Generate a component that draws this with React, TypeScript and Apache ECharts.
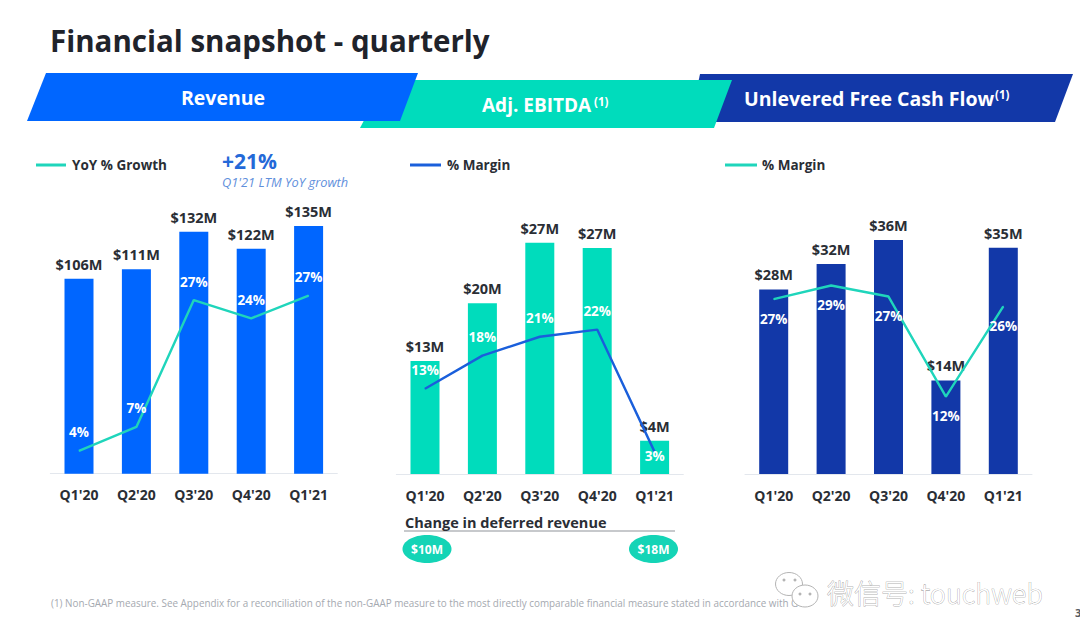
import React, { useEffect, useRef } from "react";
import * as echarts from "echarts";

const quarters = ["Q1'20", "Q2'20", "Q3'20", "Q4'20", "Q1'21"];
const revenue = [106, 111.2, 131.7, 122.4, 134.8];
const revenueGrowth = [3.5, 7.2, 26.7, 23.9, 27.4];
const ebitda = [13.3, 20.1, 27.2, 26.6, 3.9];
const ebitdaMargin = [13.1, 18.2, 21.1, 22.2, 3.4];
const fcf = [28.4, 32.3, 36.0, 14.4, 34.8];
const fcfMargin = [26.9, 29.0, 27.3, 11.9, 25.8];

const BLUE = "#0066ff";
const TEAL = "#00dcbc";
const NAVY = "#1238a8";
const LINE_TEAL = "#1fd5bb";
const LINE_BLUE = "#1a5fdb";
const INK = "#2a2e35";
const FONT = '"Open Sans"';

const FOOTNOTE =
  "(1) Non-GAAP measure. See Appendix for a reconciliation of the non-GAAP measure to the most directly comparable financial measure stated in accordance with G";

const panels = [
  { name: "Revenue", lineName: "YoY % Growth", bars: revenue, line: revenueGrowth, barColor: BLUE, lineColor: LINE_TEAL, left: 50.3, top: 198, height: 275.7, barMax: 150, lineMax: 42.4, below: false },
  { name: "Adj. EBITDA", lineName: "% Margin", bars: ebitda, line: ebitdaMargin, barColor: TEAL, lineColor: LINE_BLUE, left: 396.3, top: 219, height: 255, barMax: 30, lineMax: 39.2, below: false },
  { name: "Unlevered Free Cash Flow", lineName: "% Margin", bars: fcf, line: fcfMargin, barColor: NAVY, lineColor: LINE_TEAL, left: 745, top: 214, height: 260, barMax: 40, lineMax: 40, below: true },
];

const txt = (x: number, y: number, text: string, fontSize: number, fill: string, extra: any = {}) => ({
  type: "text",
  x,
  y,
  z: extra.z ?? 10,
  style: { text, fontSize, fill, fontFamily: FONT, fontWeight: 700, verticalAlign: "middle", align: "left", ...extra.style },
});

const legendLine = (x1: number, x2: number, y: number, color: string) => ({
  type: "line",
  shape: { x1, y1: y, x2, y2: y },
  style: { stroke: color, lineWidth: 3 },
});

const band = (points: number[][], fill: string, z: number) => ({
  type: "polygon",
  z,
  shape: { points },
  style: { fill },
});

const bubble = (cx: number, cy: number, rx: number, ry: number, z: number) => ({
  type: "ellipse",
  z,
  shape: { cx, cy, rx, ry },
  style: { fill: "#ffffff", stroke: "#b4b4b4", lineWidth: 1 },
});

const dot = (cx: number, cy: number) => ({
  type: "circle",
  z: 22,
  shape: { cx, cy, r: 1.5 },
  style: { fill: "#b4b4b4" },
});

const graphics: any[] = [
  txt(50, 40, "Financial snapshot - quarterly", 29.5, "#1f232b"),
  band([[700, 74], [1073, 74], [1055, 122], [690, 122]], NAVY, 1),
  band([[385, 80], [732, 80], [714, 128], [360, 128]], TEAL, 2),
  band([[46, 73], [418, 73], [400, 121], [27, 121]], BLUE, 3),
  txt(223, 97, "Revenue", 19.5, "#ffffff", { style: { align: "center" } }),
  txt(482, 105, "Adj. EBITDA", 19, "#ffffff"),
  txt(594, 101, "(1)", 11.5, "#ffffff"),
  txt(744, 98, "Unlevered Free Cash Flow", 19.5, "#ffffff"),
  txt(995, 94, "(1)", 11.5, "#ffffff"),
  legendLine(36, 66, 165, LINE_TEAL),
  txt(72, 165, "YoY % Growth", 13.5, INK),
  txt(222, 161, "+21%", 21, "#2469d8"),
  txt(222, 182, "Q1'21 LTM YoY growth", 12.8, "#5f8fdc", { style: { fontStyle: "italic", fontWeight: 400 } }),
  legendLine(410, 441, 165, LINE_BLUE),
  txt(447, 165, "% Margin", 13.5, INK),
  legendLine(725, 757, 165, LINE_TEAL),
  txt(762, 165, "% Margin", 13.5, INK),
  txt(405, 522, "Change in deferred revenue", 14.5, INK),
  { type: "line", shape: { x1: 404, y1: 531, x2: 675, y2: 531 }, style: { stroke: "#8f9399", lineWidth: 1 } },
  { type: "ellipse", shape: { cx: 427, cy: 549, rx: 24.5, ry: 14 }, style: { fill: "#14d4b6" } },
  { type: "ellipse", shape: { cx: 653.5, cy: 549, rx: 24.5, ry: 14 }, style: { fill: "#14d4b6" } },
  txt(427, 549, "$10M", 12, "#ffffff", { z: 11, style: { align: "center" } }),
  txt(653.5, 549, "$18M", 12, "#ffffff", { z: 11, style: { align: "center" } }),
  txt(51, 603, FOOTNOTE, 9.9, "#a5a9b0", { style: { fontWeight: 400 } }),
  bubble(789, 584, 13.5, 11.5, 20),
  bubble(805, 596, 13, 11, 21),
  dot(784, 580),
  dot(795, 580),
  dot(800, 594),
  dot(810, 594),
  {
    type: "text",
    x: 827,
    y: 592,
    z: 22,
    style: { text: "微信号: touchweb", fontSize: 27, fill: "#ffffff", stroke: "#8c8c8c", lineWidth: 0.6, fontFamily: '"Noto Sans CJK SC", "Open Sans"', fontWeight: 300, verticalAlign: "middle" },
  },
  txt(1075, 612, "3", 11, "#555a60"),
];

function buildOption() {
  const grid: any[] = [];
  const xAxis: any[] = [];
  const yAxis: any[] = [];
  const series: any[] = [];
  panels.forEach((p, i) => {
    grid.push({ left: p.left, top: p.top, width: 287, height: p.height });
    xAxis.push({
      type: "category",
      gridIndex: i,
      data: quarters,
      axisTick: { show: false },
      axisLine: { lineStyle: { color: "#e3e7ed", width: 1 } },
      axisLabel: { color: INK, fontSize: 14, fontWeight: 700, fontFamily: FONT, margin: 14 },
    });
    yAxis.push(
      { type: "value", gridIndex: i, min: 0, max: p.barMax, show: false, splitLine: { show: false } },
      { type: "value", gridIndex: i, min: 0, max: p.lineMax, show: false, splitLine: { show: false } },
    );
    series.push({
      type: "bar",
      name: p.name,
      xAxisIndex: i,
      yAxisIndex: i * 2,
      data: p.bars,
      barWidth: 29,
      itemStyle: { color: p.barColor },
      label: {
        show: true,
        position: "top",
        distance: 7,
        color: INK,
        fontSize: 14.5,
        fontWeight: 700,
        fontFamily: FONT,
        formatter: (d: any) => `$${Math.round(d.value)}M`,
      },
    });
    series.push({
      type: "line",
      name: p.lineName,
      xAxisIndex: i,
      yAxisIndex: i * 2 + 1,
      z: 5,
      symbol: "circle",
      symbolSize: 1,
      data: p.line.map((v, k) =>
        i === 1 && k === 4
          ? { value: v, label: { position: "bottom", distance: -3 } }
          : v,
      ),
      lineStyle: { color: p.lineColor, width: 2.4 },
      itemStyle: { color: p.lineColor },
      label: {
        show: true,
        position: p.below ? "bottom" : "top",
        distance: p.below ? 12 : 11,
        color: "#ffffff",
        fontSize: 13.5,
        fontWeight: 700,
        fontFamily: FONT,
        formatter: (d: any) => `${Math.round(Array.isArray(d.value) ? d.value[1] : d.value)}%`,
      },
    });
  });
  return {
    animation: false,
    backgroundColor: "#ffffff",
    textStyle: { fontFamily: FONT },
    grid,
    xAxis,
    yAxis,
    series,
    graphic: graphics,
  };
}

export default function App() {
  const ref = useRef<HTMLDivElement>(null);
  useEffect(() => {
    document.body.style.margin = "0";
    const chart = echarts.init(ref.current!, null, { renderer: "svg" });
    chart.setOption(buildOption());
    return () => chart.dispose();
  }, []);
  return <div ref={ref} style={{ position: "absolute", left: 0, top: 0, width: 1080, height: 640, overflow: "hidden" }} />;
}
